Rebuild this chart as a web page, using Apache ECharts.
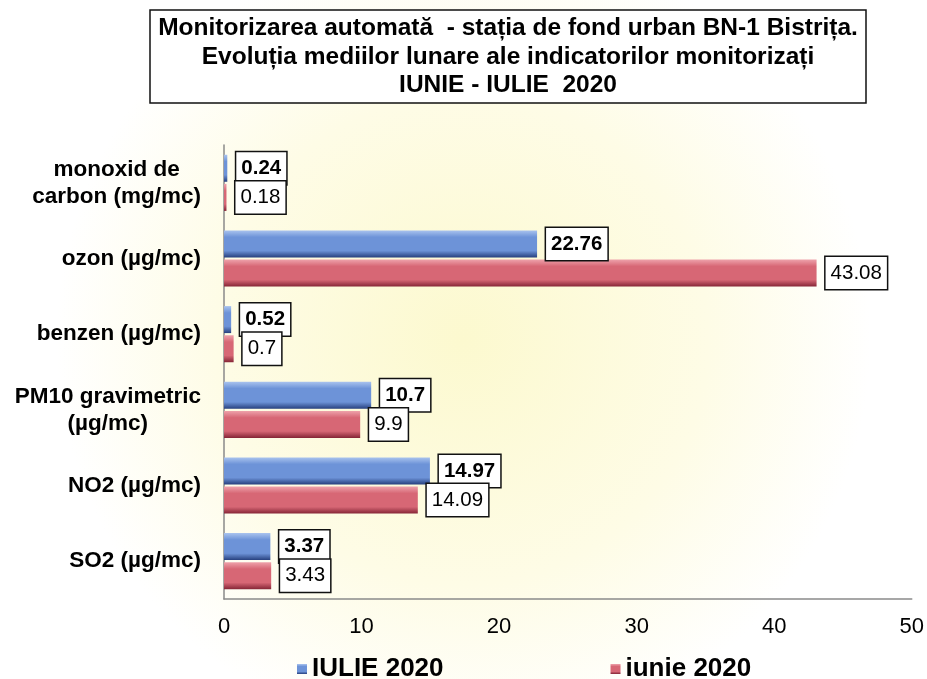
<!DOCTYPE html>
<html>
<head>
<meta charset="utf-8">
<title>BN-1 Bistrita</title>
<script src="https://cdn.jsdelivr.net/npm/echarts@6/dist/echarts.min.js"></script>
<style>
  html, body { margin: 0; padding: 0; background: #fff; }
  #chart { width: 927px; height: 679px; }
</style>
</head>
<body>
<div id="chart"></div>
<script>
// categories, top to bottom
var categories = [
  'monoxid de\ncarbon (mg/mc)',
  'ozon (µg/mc)',
  'benzen (µg/mc)',
  'PM10 gravimetric\n(µg/mc)',
  'NO2 (µg/mc)',
  'SO2 (µg/mc)'
]
var seriesNames = ['IULIE 2020', 'iunie 2020']
var iulie = [0.24, 22.76, 0.52, 10.7, 14.97, 3.37]
var iunie = [0.18, 43.08, 0.7, 9.9, 14.09, 3.43]
var xTicks = [0, 10, 20, 30, 40, 50]

var FONT = 'Liberation Sans, Arial, sans-serif'
var chart = echarts.init(document.getElementById('chart'))

function barColor(light, mid, dark) {
  return new echarts.graphic.LinearGradient(0, 0, 0, 1, [
    {offset: 0, color: light},
    {offset: 0.25, color: mid},
    {offset: 0.75, color: mid},
    {offset: 1, color: dark}
  ])
}

function labelStyle(bold) {
  return {
    show: true,
    position: 'right',
    distance: 9,
    color: '#000',
    fontFamily: FONT,
    fontSize: 20.5,
    fontWeight: bold ? 'bold' : 'normal',
    backgroundColor: '#fff',
    borderColor: '#111',
    borderWidth: 1.5,
    padding: [6, 5, 5, 5]
  }
}

var option = {
  backgroundColor: new echarts.graphic.RadialGradient(0.5, 0.5, 0.6, [
    {offset: 0, color: '#fcf9cf'},
    {offset: 0.6, color: '#fefce6'},
    {offset: 1, color: '#ffffff'}
  ]),
  title: {
    text: 'Monitorizarea automată  - stația de fond urban BN-1 Bistrița.\nEvoluția mediilor lunare ale indicatorilor monitorizați\nIUNIE - IULIE  2020',
    left: 500,
    top: 10,
    textAlign: 'center',
    backgroundColor: '#fff',
    borderColor: '#111',
    borderWidth: 1.5,
    padding: [4, 8, 4, 8],
    textStyle: {
      fontFamily: FONT,
      fontSize: 24.5,
      fontWeight: 'bold',
      color: '#000',
      lineHeight: 28.5
    }
  },
  legend: {
    data: seriesNames,
    left: 292,
    top: 651,
    itemWidth: 10,
    itemHeight: 10,
    itemGap: 167,
    icon: 'rect',
    textStyle: {
      fontFamily: FONT,
      fontSize: 26,
      fontWeight: 'bold',
      color: '#000'
    }
  },
  grid: {
    left: 224,
    right: 15,
    top: 145,
    bottom: 80
  },
  xAxis: {
    type: 'value',
    min: xTicks[0],
    max: xTicks[xTicks.length - 1],
    interval: 10,
    splitLine: {show: false},
    axisTick: {show: false},
    axisLine: {show: true, lineStyle: {color: '#8a8a8a', width: 1.5}},
    axisLabel: {
      margin: 17,
      color: '#000',
      fontFamily: FONT,
      fontSize: 22
    }
  },
  yAxis: {
    type: 'category',
    inverse: true,
    data: categories,
    axisTick: {show: false},
    axisLine: {show: true, lineStyle: {color: '#8a8a8a', width: 1.5}},
    axisLabel: {
      margin: 23,
      color: '#000',
      fontFamily: FONT,
      fontSize: 22.5,
      fontWeight: 'bold',
      lineHeight: 27,
      formatter: function (v) {
        // center each line inside the label block
        return v.split('\n').map(function (s) { return '{c|' + s + '}' }).join('\n')
      },
      rich: {
        c: {
          align: 'center',
          fontFamily: FONT,
          fontSize: 22.5,
          fontWeight: 'bold',
          color: '#000',
          lineHeight: 27
        }
      }
    }
  },
  series: [
    {
      name: seriesNames[0],
      type: 'bar',
      data: iulie,
      barWidth: 27,
      barGap: '8%',
      itemStyle: {color: barColor('#a9c3ee', '#6d93d8', '#27407e')},
      label: labelStyle(true)
    },
    {
      name: seriesNames[1],
      type: 'bar',
      data: iunie,
      barWidth: 27,
      itemStyle: {color: barColor('#eea2ab', '#d76775', '#852536')},
      label: labelStyle(false)
    }
  ]
}

chart.setOption(option)
</script>
</body>
</html>
